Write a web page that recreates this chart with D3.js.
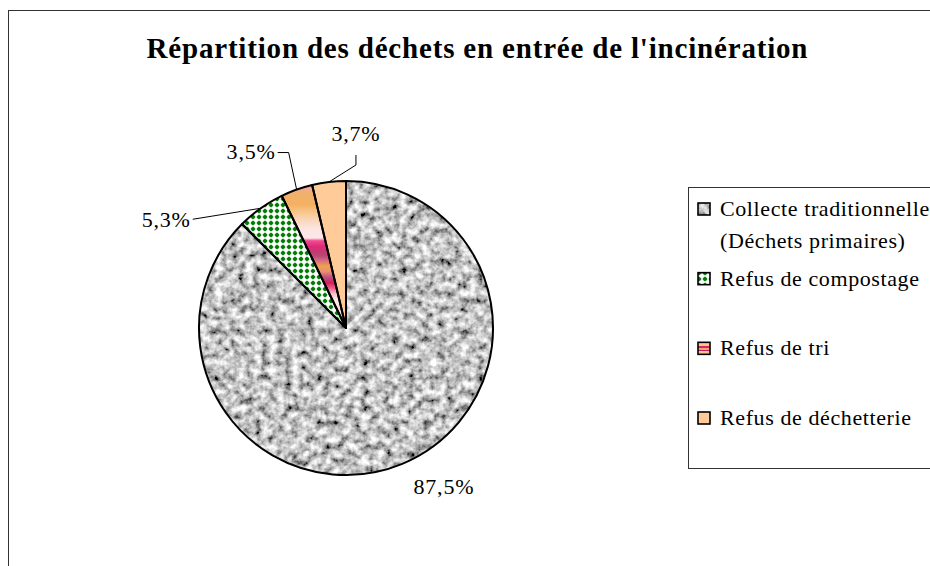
<!DOCTYPE html>
<html>
<head>
<meta charset="utf-8">
<script src="https://cdn.jsdelivr.net/npm/d3@7"></script>
<style>
  html, body { margin: 0; padding: 0; background: #fff; }
  svg { display: block; }
  text { font-family: "Liberation Serif", "Times New Roman", serif; fill: #000; }
</style>
</head>
<body>
<svg id="chart" width="930" height="566"></svg>
<script>
// ---- data ----
const title = "Répartition des déchets en entrée de l'incinération";
const categories = ["Collecte traditionnelle", "Refus de compostage", "Refus de tri", "Refus de déchetterie"];
const legendLines = [["Collecte traditionnelle", "(Déchets primaires)"], ["Refus de compostage"], ["Refus de tri"], ["Refus de déchetterie"]];
const values = [87.5, 5.3, 3.5, 3.7];
const valueLabels = ["87,5%", "5,3%", "3,5%", "3,7%"];

// ---- setup ----
const svg = d3.select("#chart");
const W = 930, H = 566;
const cx = 346, cy = 328, R = 147;

const defs = svg.append("defs");

// granite texture filter
const granite = defs.append("filter").attr("id", "granite")
  .attr("x", 0).attr("y", 0).attr("width", 1).attr("height", 1)
  .attr("filterUnits", "objectBoundingBox");
granite.append("feTurbulence").attr("type", "fractalNoise")
  .attr("baseFrequency", 0.13).attr("numOctaves", 3).attr("seed", 11).attr("result", "noise");
granite.append("feColorMatrix").attr("in", "noise").attr("type", "matrix")
  .attr("values", "1.7 0 0 0 -0.3  1.7 0 0 0 -0.3  1.7 0 0 0 -0.3  0 0 0 0 1")
  .attr("result", "grey");
granite.append("feComposite").attr("in", "grey").attr("in2", "SourceGraphic").attr("operator", "in");

// green dotted pattern
const dots = defs.append("pattern").attr("id", "dots").attr("patternUnits", "userSpaceOnUse")
  .attr("width", 6).attr("height", 6);
dots.append("rect").attr("width", 6).attr("height", 6).attr("fill", "#fff");
dots.append("circle").attr("cx", 3).attr("cy", 3).attr("r", 2.0).attr("fill", "#007a00");
dots.append("rect").attr("x", 0.7).attr("y", 2.4).attr("width", 4.6).attr("height", 1.2).attr("fill", "#007a00");
dots.append("rect").attr("x", 2.4).attr("y", 0.7).attr("width", 1.2).attr("height", 4.6).attr("fill", "#007a00");

// stripes (refus de tri) – gradient in the pie group's coordinates
const stripeStops = [
  [0, "#f4a0a8"], [0.04, "#f4a8a0"], [0.07, "#f2b070"], [0.16, "#f4b060"], [0.22, "#f8c890"],
  [0.28, "#fad8c0"], [0.33, "#fde4e0"], [0.40, "#fce8e8"], [0.42, "#f24a90"], [0.46, "#e02a78"],
  [0.50, "#c03a70"], [0.53, "#b84a78"], [0.56, "#d86a80"], [0.60, "#f0a050"], [0.64, "#e89070"],
  [0.68, "#c05080"], [0.72, "#d02060"], [0.76, "#f06090"], [0.80, "#f8c8c8"], [0.85, "#fff0f0"],
  [0.90, "#fce0e0"], [1, "#fff4f4"]
];
const grad = defs.append("linearGradient").attr("id", "stripes")
  .attr("gradientUnits", "userSpaceOnUse")
  .attr("x1", 0).attr("x2", 0).attr("y1", 182 - cy).attr("y2", 322 - cy);
stripeStops.forEach(s => grad.append("stop").attr("offset", s[0]).attr("stop-color", s[1]));

// legend swatch stripes
const lgrad = defs.append("linearGradient").attr("id", "stripesSmall")
  .attr("x1", 0).attr("x2", 0).attr("y1", 0).attr("y2", 1);
[[0, "#fcc890"], [0.3, "#fcc890"], [0.3, "#e02060"], [0.45, "#e02060"], [0.45, "#f8a070"],
 [0.6, "#f8a070"], [0.6, "#c02060"], [0.72, "#c02060"], [0.72, "#fcc890"], [1, "#fcc890"]]
 .forEach(s => lgrad.append("stop").attr("offset", s[0]).attr("stop-color", s[1]));

const fills = ["granite", "url(#dots)", "url(#stripes)", "#ffcc99"];
const swatchFills = ["granite", "url(#dots)", "url(#stripesSmall)", "#ffcc99"];

// frame
svg.append("rect").attr("x", 8.5).attr("y", 10.5).attr("width", W).attr("height", H)
  .attr("fill", "none").attr("stroke", "#333").attr("stroke-width", 1);

// title
svg.append("text").attr("x", 477).attr("y", 58).attr("text-anchor", "middle")
  .attr("font-size", 29).attr("font-weight", "bold")
  .attr("textLength", 661).attr("lengthAdjust", "spacing")
  .text(title);

// pie
const pie = d3.pie().sort(null).value(d => d)(values);
const arc = d3.arc().innerRadius(0).outerRadius(R);
const g = svg.append("g").attr("transform", `translate(${cx},${cy})`);

pie.forEach((d, i) => {
  if (fills[i] === "granite") {
    g.append("path").attr("d", arc(d)).attr("fill", "#aaa").attr("filter", "url(#granite)");
  } else {
    g.append("path").attr("d", arc(d)).attr("fill", fills[i]);
  }
});
g.selectAll("path.outline").data(pie).join("path").attr("class", "outline")
  .attr("d", arc).attr("fill", "none").attr("stroke", "#000").attr("stroke-width", 2)
  .attr("stroke-linejoin", "round");

// labels
const edge = d => {
  const a = (d.startAngle + d.endAngle) / 2;
  return [Math.sin(a) * R, -Math.cos(a) * R];
};
const lab = svg.append("g").attr("transform", `translate(${cx},${cy})`).attr("font-size", 22);
const lineGen = d3.line();
// 87,5%
{
  const d = pie[0];
  const [x, y] = d3.arc().innerRadius(R + 20).outerRadius(R + 20).centroid(d);
  lab.append("text").attr("x", x + 34).attr("y", y + 12).attr("text-anchor", "middle")
    .attr("letter-spacing", 0.8).text(valueLabels[0]);
}
// 5,3%
{
  const d = pie[1];
  const [ex, ey] = edge(d);
  const tx = ex - 68, ty = ey + 11;
  lab.append("path").attr("d", lineGen([[ex, ey], [tx, ty]])).attr("stroke", "#000").attr("fill", "none");
  lab.append("text").attr("x", tx - 2).attr("y", ty + 8).attr("text-anchor", "end")
    .attr("letter-spacing", 0.8).text(valueLabels[1]);
}
// 3,5%
{
  const d = pie[2];
  const [ex, ey] = edge(d);
  const kx = ex - 8, ky = ey - 37;
  lab.append("path").attr("d", lineGen([[ex, ey], [kx, ky], [kx - 11, ky]])).attr("stroke", "#000").attr("fill", "none");
  lab.append("text").attr("x", kx - 13).attr("y", ky + 6).attr("text-anchor", "end")
    .attr("letter-spacing", 0.8).text(valueLabels[2]);
}
// 3,7%
{
  const d = pie[3];
  const [ex, ey] = edge(d);
  const kx = ex + 27, ky = ey - 17;
  lab.append("path").attr("d", lineGen([[ex, ey], [kx, ky], [kx, ky - 10]])).attr("stroke", "#000").attr("fill", "none");
  lab.append("text").attr("x", kx).attr("y", ky - 24).attr("text-anchor", "middle")
    .attr("letter-spacing", 0.8).text(valueLabels[3]);
}

// legend
const leg = svg.append("g");
leg.append("rect").attr("x", 688.5).attr("y", 187.5).attr("width", 260).attr("height", 281)
  .attr("fill", "#fff").attr("stroke", "#333").attr("stroke-width", 1);
const ly = d3.scalePoint().domain(categories).range([209, 418]);
categories.forEach((c, i) => {
  const y = ly(c);
  if (swatchFills[i] === "granite") {
    leg.append("rect").attr("x", 698).attr("y", y - 6).attr("width", 12).attr("height", 12)
      .attr("fill", "#aaa").attr("filter", "url(#granite)");
  } else {
    leg.append("rect").attr("x", 698).attr("y", y - 6).attr("width", 12).attr("height", 12)
      .attr("fill", swatchFills[i]);
  }
  leg.append("rect").attr("x", 698).attr("y", y - 6).attr("width", 12).attr("height", 12)
    .attr("fill", "none").attr("stroke", "#000").attr("stroke-width", 1.6);
  legendLines[i].forEach((t, j) => {
    leg.append("text").attr("x", 720).attr("y", y + 7 + j * 32)
      .attr("font-size", 22).attr("letter-spacing", 0.6).text(t);
  });
});
</script>
</body>
</html>
